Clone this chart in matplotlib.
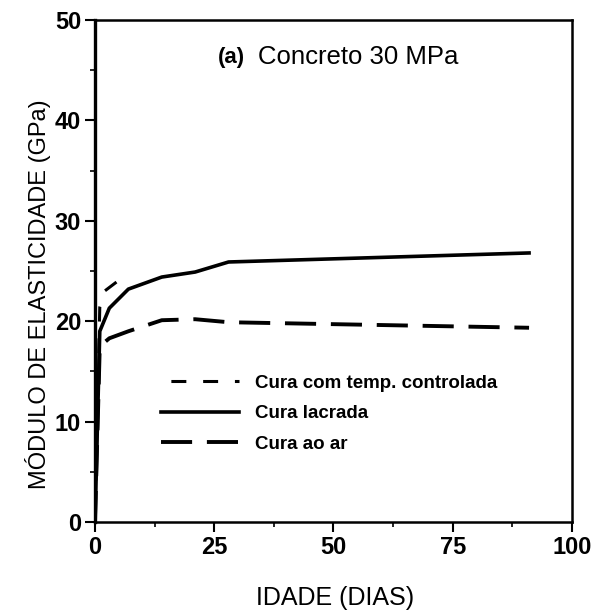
import matplotlib.pyplot as plt
from matplotlib.ticker import MultipleLocator

# ages (days) and modulus (GPa)
dias_temp = [0, 1, 2, 4.5]
temp_controlada = [0, 21.4, 23.0, 23.9]

dias_lacrada = [0, 1, 3, 7, 14, 21, 28, 91]
lacrada = [0, 19.0, 21.3, 23.2, 24.4, 24.9, 25.9, 26.8]

dias_ar = [0, 1, 3, 7, 14, 21, 28, 91]
ao_ar = [0, 17.5, 18.3, 19.0, 20.1, 20.2, 19.9, 19.35]

plt.rcParams['font.family'] = ['Liberation Sans', 'DejaVu Sans']

fig = plt.figure(figsize=(5.96, 6.12), dpi=100)
ax = fig.add_axes([0.1594, 0.147, 0.8003, 0.8203])

ax.plot(dias_temp, temp_controlada, color="black", lw=2.2,
        linestyle=(7.17, (4.9, 5.5)), label="Cura com temp. controlada")
ax.plot(dias_lacrada, lacrada, color="black", lw=2.6, label="Cura lacrada")
ax.plot(dias_ar, ao_ar, color="black", lw=2.8, dashes=(8, 3.8), label="Cura ao ar")

ax.set_xlim(0, 100)
ax.set_ylim(0, 50)
ax.xaxis.set_major_locator(MultipleLocator(25))
ax.xaxis.set_minor_locator(MultipleLocator(12.5))
ax.yaxis.set_major_locator(MultipleLocator(10))
ax.yaxis.set_minor_locator(MultipleLocator(5))
ax.tick_params(which="major", direction="out", length=7, width=1.5, pad=3,
               labelsize=17, top=False, right=False)
ax.tick_params(which="minor", direction="out", length=3.5, width=1.2,
               top=False, right=False)
for lab in ax.get_xticklabels() + ax.get_yticklabels():
    lab.set_fontweight("bold")
for side in ["left", "bottom", "top", "right"]:
    ax.spines[side].set_linewidth(1.8)
ax.spines["left"].set_linewidth(2.4)

ax.set_xlabel("IDADE (DIAS)", fontsize=18, va="center")
ax.xaxis.set_label_coords(0.503, -0.151)
ax.set_ylabel("MÓDULO DE ELASTICIDADE (GPa)", fontsize=17, va="center")
ax.yaxis.set_label_coords(-0.119, 0.454)

ax.text(0.258, 0.926, "(a)", transform=ax.transAxes, fontsize=16,
        fontweight="bold", va="center", ha="left")
ax.text(0.342, 0.926, "Concreto 30 MPa", transform=ax.transAxes, fontsize=18.5,
        va="center", ha="left")

leg = ax.legend(loc="upper left", bbox_to_anchor=(0.11, 0.32), frameon=False,
                prop={"size": 13.5, "weight": "bold"}, handlelength=4.2,
                handletextpad=0.85, labelspacing=0.72, borderpad=0.2)

fig.savefig("out.png", dpi=100)
